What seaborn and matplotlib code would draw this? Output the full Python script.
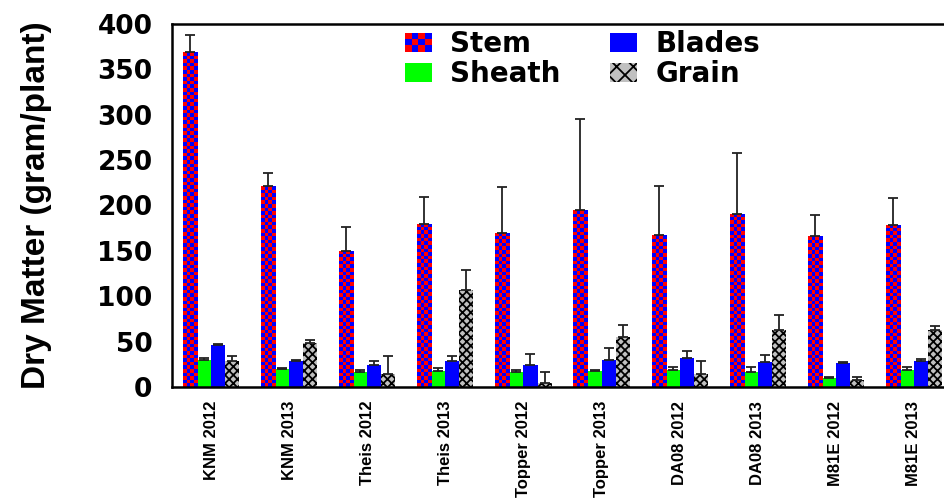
import numpy as np
import pandas as pd
import matplotlib
matplotlib.use("Agg")
import matplotlib.pyplot as plt
from matplotlib.colors import ListedColormap
from matplotlib.patches import Rectangle
from matplotlib.legend_handler import HandlerBase
import seaborn as sns

# ---- data ----
categories = ["KNM 2012", "KNM 2013", "Theis 2012", "Theis 2013", "Topper 2012",
              "Topper 2013", "DA08 2012", "DA08 2013", "M81E 2012", "M81E 2013"]
parts = ["Stem", "Sheath", "Blades", "Grain"]
stem = [369, 221, 150, 180, 170, 195, 167, 191, 166, 179]
stem_err = [19, 15, 26, 29, 50, 100, 55, 67, 24, 29]
sheath = [30, 20, 17, 18, 17, 18, 19, 17, 10, 19]
sheath_err = [1.5, 0.5, 2, 2.5, 2, 1, 3, 5, 1.5, 3]
blades = [46, 29, 24, 29, 24, 30, 32, 27, 26, 29]
blades_err = [1, 0.5, 5, 5, 12, 13, 8, 8, 1.5, 2]
grain = [29, 48, 14, 107, 4, 55, 14, 63, 8, 63]
grain_err = [5, 4, 20, 22, 12, 13, 15, 16, 3, 4]
yticks = [0, 50, 100, 150, 200, 250, 300, 350, 400]

values = {"Stem": stem, "Sheath": sheath, "Blades": blades, "Grain": grain}
errors = {"Stem": stem_err, "Sheath": sheath_err, "Blades": blades_err, "Grain": grain_err}

df = pd.DataFrame([(c, p, values[p][i]) for p in parts for i, c in enumerate(categories)],
                  columns=["cat", "part", "val"])

RED, BLUE, GREEN, GRAY = "#ff0000", "#0000ff", "#00ff00", "#c0c0c0"
palette = {"Stem": BLUE, "Sheath": GREEN, "Blades": BLUE, "Grain": GRAY}

sns.set_style("white")
plt.rcParams["hatch.linewidth"] = 1.3
plt.rcParams["hatch.color"] = "black"
plt.rcParams["text.color"] = "black"
plt.rcParams["axes.labelcolor"] = "black"
plt.rcParams["xtick.color"] = "black"
plt.rcParams["ytick.color"] = "black"

W, H = 944, 501
fig = plt.figure(figsize=(W / 100, H / 100), dpi=100)
ax_l, ax_r, ax_t, ax_b = 172, 953, 24, 387
ax = fig.add_axes([ax_l / W, 1 - ax_b / H, (ax_r - ax_l) / W, (ax_b - ax_t) / H])

sns.barplot(data=df, x="cat", y="val", hue="part", hue_order=parts, order=categories,
            palette=palette, width=0.72, errorbar=None, ax=ax, legend=False,
            linewidth=0, saturation=1)

ax.set_xlim(-0.5, len(categories) - 0.5)
ax.set_ylim(0, 400)

# style containers
for cont, p in zip(ax.containers, parts):
    for bar in cont:
        bar.set_zorder(2)
        if p == "Grain":
            bar.set_hatch("xxxx")
            bar.set_edgecolor("black")
            bar.set_linewidth(0)

fig.canvas.draw()
px_per_unit_y = (ax.transData.transform((0, 100))[1] - ax.transData.transform((0, 0))[1]) / 100.0
cmap = ListedColormap([RED, BLUE])
for bar in ax.containers[0]:
    x0, w, h = bar.get_x(), bar.get_width(), bar.get_height()
    nrows = max(1, int(round(h * px_per_unit_y / 3.6)))
    ii, jj = np.indices((nrows, 4))
    img = ((ii + jj) % 2).astype(float)
    im = ax.imshow(img, extent=(x0, x0 + w, 0, h), origin="upper", aspect="auto",
                   interpolation="nearest", cmap=cmap, vmin=0, vmax=1, zorder=2.1)
    im.set_clip_path(bar)

# error bars (upper only)
for cont, p in zip(ax.containers, parts):
    xs = [b.get_x() + b.get_width() / 2 for b in cont]
    ys = [b.get_height() for b in cont]
    err = errors[p]
    ax.errorbar(xs, ys, yerr=[np.zeros(len(err)), err], fmt="none", ecolor="#222222",
                elinewidth=1.3, capsize=3.3, capthick=1.3, zorder=3)

ax.set_xlim(-0.5, len(categories) - 0.5)
ax.set_ylim(0, 400)

# axes styling
for s in ["top", "left", "bottom", "right"]:
    ax.spines[s].set_color("black")
    ax.spines[s].set_linewidth(1.8)
    ax.spines[s].set_visible(True)

ax.set_yticks(yticks)
ax.set_yticklabels([str(v) for v in yticks], fontfamily="DejaVu Sans",
                   fontweight="bold", fontsize=19, color="black")
ax.tick_params(axis="y", direction="in", length=8, width=1.5, color="#555555", pad=14)

boundaries = np.arange(-0.5, len(categories) + 0.5, 1.0)
ax.set_xticks(boundaries)
ax.set_xticklabels([""] * len(boundaries))
ax.tick_params(axis="x", which="major", direction="in", length=8, width=1.5, color="black")
ax.set_xticks(np.arange(len(categories)), minor=True)
ax.set_xticklabels(categories, minor=True, rotation=90, fontfamily="Liberation Sans",
                   fontweight="bold", fontsize=12, color="black")
ax.tick_params(axis="x", which="minor", length=0, pad=10)

ax.set_xlabel("")
ax.set_ylabel("Dry Matter (gram/plant)", fontfamily="Liberation Sans", fontweight="bold",
              fontsize=24, color="black")
ax.yaxis.set_label_coords(-0.154, 0.5)


# legend with checkerboard handle
class CheckerHandler(HandlerBase):
    def create_artists(self, legend, orig_handle, xdescent, ydescent, width, height, fontsize, trans):
        arts = []
        nx, ny = 4, 3
        for i in range(nx):
            for j in range(ny):
                c = RED if (i + (ny - 1 - j)) % 2 == 0 else BLUE
                r = Rectangle((-xdescent + i * width / nx, -ydescent + j * height / ny),
                              width / nx, height / ny, facecolor=c, edgecolor="none", transform=trans)
                arts.append(r)
        return arts


h_stem = Rectangle((0, 0), 1, 1, facecolor=RED)
h_sheath = Rectangle((0, 0), 1, 1, facecolor=GREEN, edgecolor="none")
h_blades = Rectangle((0, 0), 1, 1, facecolor=BLUE, edgecolor="none")
h_grain = Rectangle((0, 0), 1, 1, facecolor=GRAY, hatch="xx", edgecolor="black", linewidth=0)
leg = fig.legend([h_stem, h_sheath, h_blades, h_grain], ["Stem", "Sheath", "Blades", "Grain"],
                 handler_map={h_stem: CheckerHandler()}, ncol=2, frameon=False,
                 loc="upper left", bbox_to_anchor=(405 / W, 1 - 30 / H),
                 prop={"family": "DejaVu Sans", "weight": "bold", "size": 20},
                 handlelength=0.97, handleheight=0.68, handletextpad=0.65,
                 columnspacing=1.8, labelspacing=0.08, borderpad=0, borderaxespad=0)
for t in leg.get_texts():
    t.set_color("black")

fig.savefig("out.png", dpi=100)
